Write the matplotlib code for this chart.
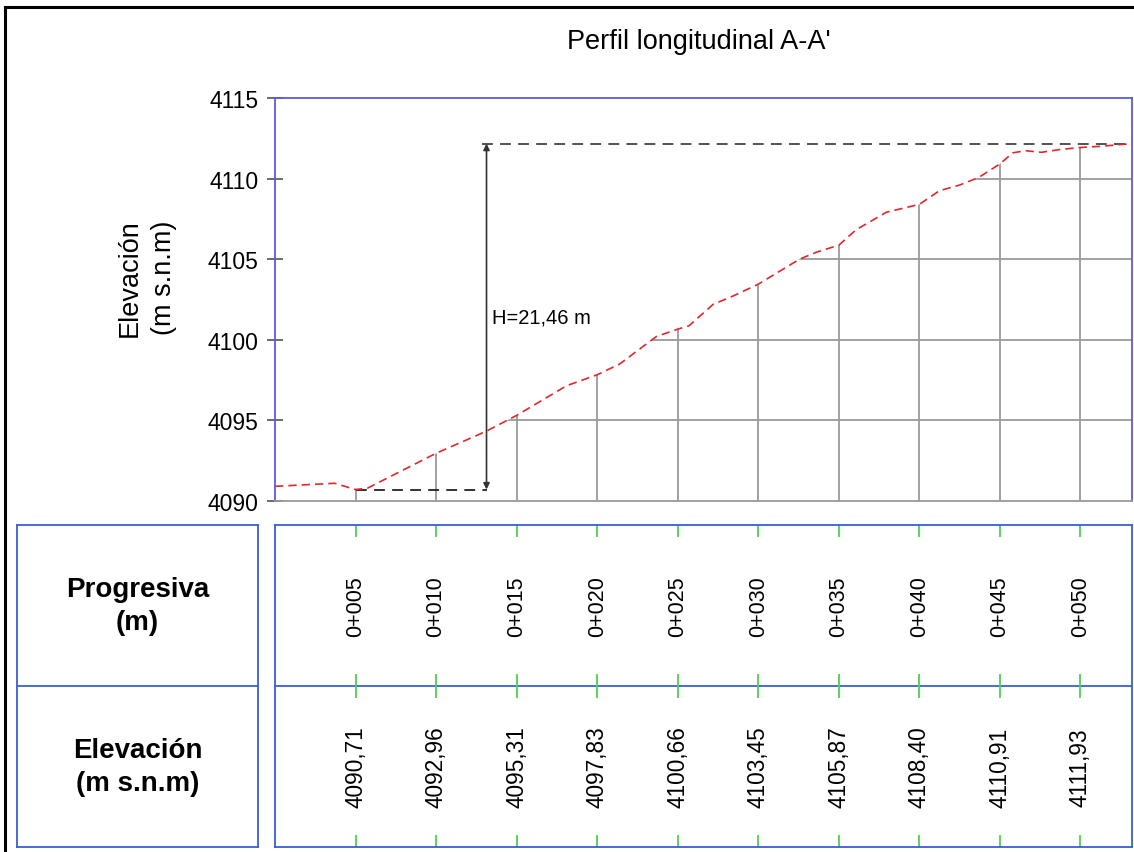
import numpy as np
import matplotlib
matplotlib.use('Agg')
import matplotlib.pyplot as plt
from matplotlib.patches import Polygon
from matplotlib.lines import Line2D

plt.rcParams['font.family'] = ['Liberation Sans', 'DejaVu Sans']

# perfil del terreno (distancia m, elevacion m s.n.m)
dist = [0, 3.7, 5.0, 5.75, 10.0, 13.1, 15.0, 18.1, 20.0, 21.4, 23.67, 25.0, 25.7,
        27.2, 28.4, 30.0, 32.56, 33.6, 35.0, 36.08, 37.95, 38.77, 40.0, 41.25,
        42.5, 43.7, 45.0, 45.8, 46.6, 47.57, 48.7, 50.0, 51.2, 53.2]
elev = [4090.91, 4091.10, 4090.71, 4090.80, 4092.96, 4094.32, 4095.31, 4097.15,
        4097.83, 4098.5, 4100.2, 4100.66, 4100.87, 4102.2, 4102.7, 4103.45,
        4105.0, 4105.43, 4105.87, 4106.83, 4107.91, 4108.11, 4108.40, 4109.25,
        4109.6, 4110.08, 4110.91, 4111.6, 4111.73, 4111.63, 4111.8, 4111.93,
        4112.0, 4112.17]

stations = [5, 10, 15, 20, 25, 30, 35, 40, 45, 50]
progresiva = ['0+005', '0+010', '0+015', '0+020', '0+025',
              '0+030', '0+035', '0+040', '0+045', '0+050']
elev_lbl = ['4090,71', '4092,96', '4095,31', '4097,83', '4100,66',
            '4103,45', '4105,87', '4108,40', '4110,91', '4111,93']
yticks = [4090, 4095, 4100, 4105, 4110, 4115]

h_x = 13.13
h_low, h_top = 4090.71, 4112.17

W, H = 1134, 853
fig = plt.figure(figsize=(W / 100, H / 100), dpi=100)

def fx(px):
    return px / W

def fy(py):
    return 1 - py / H

plot_blue = '#5a5ae0'
tab_blue = '#3a5fd6'
grid_c = '#9a9a9a'
xmax = 53.2

# marco exterior
fig.add_artist(Line2D([fx(5), fx(5)], [fy(8), -0.1], color='black', lw=2.2))
fig.add_artist(Line2D([fx(5), 1.1], [fy(8), fy(8)], color='black', lw=2.2))

ax = fig.add_axes([fx(275), fy(502), fx(1132) - fx(275), fy(99) - fy(502)])
ax.set_xlim(0, xmax)
ax.set_ylim(4090, 4115)
for s in ['left', 'top', 'right']:
    ax.spines[s].set_color(plot_blue)
    ax.spines[s].set_linewidth(1.3)
ax.spines['bottom'].set_color(grid_c)
ax.spines['bottom'].set_linewidth(1.3)
ax.set_xticks([])
ax.set_yticks(yticks)
ax.tick_params(axis='y', direction='inout', length=11.5, width=1.1,
               color='#444444', labelsize=16.5, pad=6)

# rejilla recortada bajo el perfil
poly = Polygon(list(zip([0] + dist + [xmax], [4090] + elev + [4090])),
               closed=True, fill=False, lw=0, transform=ax.transData)
ax.add_patch(poly)
vl = ax.vlines(stations, 4090, 4115, colors=grid_c, lw=1.3)
hl = ax.hlines(yticks[1:-1], 0, xmax, colors=grid_c, lw=1.3)
vl.set_clip_path(poly)
hl.set_clip_path(poly)

ax.plot(dist, elev, color='#e0282c', lw=1.2, dashes=(5, 3), zorder=4)

# cota H
ax.plot([5, h_x], [h_low, h_low], color='#222222', lw=1.3, dashes=(6, 4))
ax.plot([h_x - 0.3, xmax], [h_top, h_top], color='#444444', lw=1.3, dashes=(6, 4))
ax.annotate('', xy=(h_x, h_top), xytext=(h_x, h_low),
            arrowprops=dict(arrowstyle='<|-|>', color='#333333', lw=1.2,
                            mutation_scale=9, shrinkA=0, shrinkB=0))
ax.text(13.5, 4101.43, 'H=21,46 m', fontsize=14.5, ha='left', va='center')

fig.text(fx(699), fy(42), "Perfil longitudinal A-A'", fontsize=19.5,
         ha='center', va='center')
fig.text(fx(147), fy(278), 'Elevación\n(m s.n.m)', fontsize=19.5, rotation=90,
         ha='center', va='center', multialignment='center', linespacing=1.4)

# tabla: encabezados
axl = fig.add_axes([fx(17), fy(848), fx(258) - fx(17), fy(526) - fy(848)])
axl.set_xlim(0, 1)
axl.set_ylim(0, 2)
axl.set_xticks([])
axl.set_yticks([])
for s in axl.spines.values():
    s.set_color(tab_blue)
    s.set_linewidth(1.3)
axl.axhline(1, color=tab_blue, lw=1.3)
axl.text(0.5, 1.5, 'Progresiva\n(m)', fontsize=20, fontweight='bold',
         ha='center', va='center', linespacing=1.35)
axl.text(0.5, 0.5, 'Elevación\n(m s.n.m)', fontsize=20, fontweight='bold',
         ha='center', va='center', linespacing=1.35)

# tabla: valores
axt = fig.add_axes([fx(275), fy(848), fx(1132) - fx(275), fy(526) - fy(848)])
axt.set_xlim(0, xmax)
axt.set_ylim(0, 2)
axt.set_xticks([])
axt.set_yticks([])
for s in axt.spines.values():
    s.set_color(tab_blue)
    s.set_linewidth(1.3)
axt.axhline(1, color=tab_blue, lw=1.3)
tk = 12 / 161
green = '#4cd24c'
for y0, y1 in [(2 - tk, 2), (1, 1 + tk), (1 - tk, 1), (0, tk)]:
    axt.vlines(stations, y0, y1, colors=green, lw=1.3)
for x, p, e in zip(stations, progresiva, elev_lbl):
    axt.text(x, 1.5, p, rotation=90, fontsize=15.5, ha='center', va='center')
    axt.text(x, 0.5, e, rotation=90, fontsize=16.3, ha='center', va='center')

fig.savefig('out.png', dpi=100)
